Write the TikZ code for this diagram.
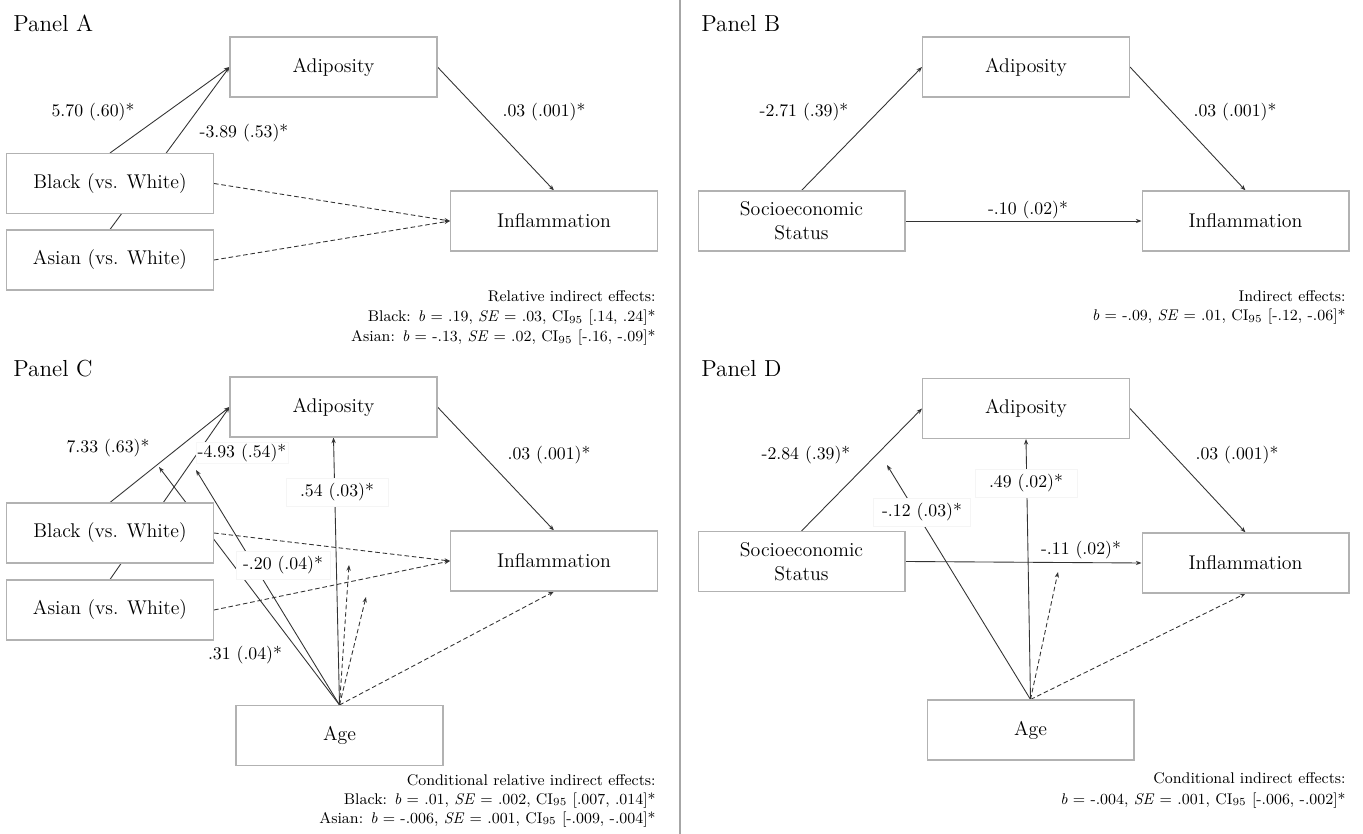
\documentclass[tikz,border=0pt]{standalone}
\usepackage{fontspec}
\usetikzlibrary{arrows.meta,backgrounds}

\begin{document}
\begin{tikzpicture}[
    x=0.02cm, y=-0.02cm,
    var/.style={rectangle, draw=black!30, fill=white, line width=0.6pt, minimum width=4.14cm, minimum height=1.2cm, align=center, inner sep=2pt, font=\fontsize{11.3}{13.8}\selectfont},
    coef/.style={font=\fontsize{10.1}{12}\selectfont, inner sep=1pt},
    boxed/.style={coef, fill=white, draw=black!4, inner xsep=4pt, inner ysep=3pt},
    title/.style={anchor=base west, font=\fontsize{13.2}{16}\selectfont, inner sep=0pt},
    note/.style={anchor=base east, inner sep=0pt, font=\fontsize{8.8}{11}\selectfont},
    eff/.style={draw=black!80, line width=0.5pt, -{Stealth[length=3.2pt, width=2.4pt]}},
    neff/.style={eff, dash pattern=on 2.6pt off 1.6pt}
]
\useasboundingbox (0,0) rectangle (1363,834);
\draw[black!35, line width=0.7pt] (680,0) -- (680,834);

% Panel A
\node[title] (titleA) at (13,32) {Panel A};
\node[var] (adipA) at (333.5,67) {Adiposity};
\node[var] (blackA) at (110,183.5) {Black (vs. White)};
\node[var] (asianA) at (110,260) {Asian (vs. White)};
\node[var] (inflA) at (554,221) {Inflammation};
\node[coef] (cA1) at (93,112) {5.70 (.60)*};
\node[coef] (cA2) at (244,133) {-3.89 (.53)*};
\node[coef] (cA3) at (544,112) {.03 (.001)*};
\node[note] (nA1) at (656,302) {Relative indirect effects:};
\node[note] (nA2) at (656,322) {Black: \textit{b} = .19, \textit{SE} = .03, CI\textsubscript{95} [.14, .24]*};
\node[note] (nA3) at (656,342) {Asian: \textit{b} = -.13, \textit{SE} = .02, CI\textsubscript{95} [-.16, -.09]*};

% Panel B
\node[title] (titleB) at (701,32) {Panel B};
\node[var] (adipB) at (1026,67) {Adiposity};
\node[var] (sesB) at (801.5,221) {Socioeconomic\\Status};
\node[var] (inflB) at (1245.5,221) {Inflammation};
\node[coef] (cB1) at (804,112) {-2.71 (.39)*};
\node[coef] (cB2) at (1235,112) {.03 (.001)*};
\node[coef] (cB3) at (1028,210) {-.10 (.02)*};
\node[note] (nB1) at (1346,302) {Indirect effects:};
\node[note] (nB2) at (1346,321) {\textit{b} = -.09, \textit{SE} = .01, CI\textsubscript{95} [-.12, -.06]*};

% Panel C
\node[title] (titleC) at (13,377) {Panel C};
\node[var] (adipC) at (333.5,407) {Adiposity};
\node[var] (blackC) at (110,533) {Black (vs. White)};
\node[var] (asianC) at (110,610) {Asian (vs. White)};
\node[var] (inflC) at (554,561) {Inflammation};
\node[var] (ageC) at (339.5,735.5) {Age};
\coordinate (modC1) at (159,467);
\coordinate (modC2) at (196,470);
\coordinate (modC3) at (349,565);
\coordinate (modC4) at (366,597);
\node[coef] (cC1) at (108,448) {7.33 (.63)*};
\node[coef, fill=white, draw=black!3] (cC2) at (242,453) {-4.93 (.54)*};
\node[coef] (cC3) at (549,455) {.03 (.001)*};
\node[boxed, inner xsep=8pt] (cC4) at (337,492) {.54 (.03)*};
\node[boxed] (cC5) at (283,565) {-.20 (.04)*};
\node[coef] (cC6) at (245,655) {.31 (.04)*};
\node[note] (nC1) at (656,785) {Conditional relative indirect effects:};
\node[note] (nC2) at (656,804) {Black: \textit{b} = .01, \textit{SE} = .002, CI\textsubscript{95} [.007, .014]*};
\node[note] (nC3) at (656,823) {Asian: \textit{b} = -.006, \textit{SE} = .001, CI\textsubscript{95} [-.009, -.004]*};

% Panel D
\node[title] (titleD) at (701,377) {Panel D};
\node[var] (adipD) at (1026,408.5) {Adiposity};
\node[var] (sesD) at (801.5,561.5) {Socioeconomic\\Status};
\node[var] (inflD) at (1245.5,563) {Inflammation};
\node[var] (ageD) at (1030.5,730) {Age};
\coordinate (modD1) at (887,465);
\coordinate (modD2) at (1058,572);
\node[coef] (cD1) at (806,455) {-2.84 (.39)*};
\node[coef] (cD2) at (1237,455) {.03 (.001)*};
\node[coef] (cD3) at (1081,550) {-.11 (.02)*};
\node[boxed, inner xsep=8pt] (cD4) at (1026,483) {.49 (.02)*};
\node[boxed, inner xsep=5pt] (cD5) at (922,512) {-.12 (.03)*};
\node[note] (nD1) at (1346,783) {Conditional indirect effects:};
\node[note] (nD2) at (1346,804) {\textit{b} = -.004, \textit{SE} = .001, CI\textsubscript{95} [-.006, -.002]*};

% paths
\begin{scope}[on background layer]
\fill[white] (0,0) rectangle (1363,834);
\draw[eff] (blackA.north) -- (adipA.west);
\draw[eff] (asianA.north) -- (adipA.west);
\draw[eff] (adipA.east) -- (inflA.north);
\draw[neff] (blackA.east) -- (inflA.west);
\draw[neff] (asianA.east) -- (inflA.west);

\draw[eff] (sesB.north) -- (adipB.west);
\draw[eff] (adipB.east) -- (inflB.north);
\draw[eff] (sesB.east) -- (inflB.west);

\draw[eff] (blackC.north) -- (adipC.west);
\draw[eff] (asianC.north) -- (adipC.west);
\draw[eff] (adipC.east) -- (inflC.north);
\draw[neff] (blackC.east) -- (inflC.west);
\draw[neff] (asianC.east) -- (inflC.west);
\draw[eff] (ageC.north) -- (adipC.south);
\draw[eff] (ageC.north) -- (modC1);
\draw[eff] (ageC.north) -- (modC2);
\draw[neff] (ageC.north) -- (modC3);
\draw[neff] (ageC.north) -- (modC4);
\draw[neff] (ageC.north) -- (inflC.south);

\draw[eff] (sesD.north) -- (adipD.west);
\draw[eff] (adipD.east) -- (inflD.north);
\draw[eff] (sesD.east) -- (inflD.west);
\draw[eff] (ageD.north) -- (adipD.south);
\draw[eff] (ageD.north) -- (modD1);
\draw[neff] (ageD.north) -- (modD2);
\draw[neff] (ageD.north) -- (inflD.south);
\end{scope}
\end{tikzpicture}
\end{document}
